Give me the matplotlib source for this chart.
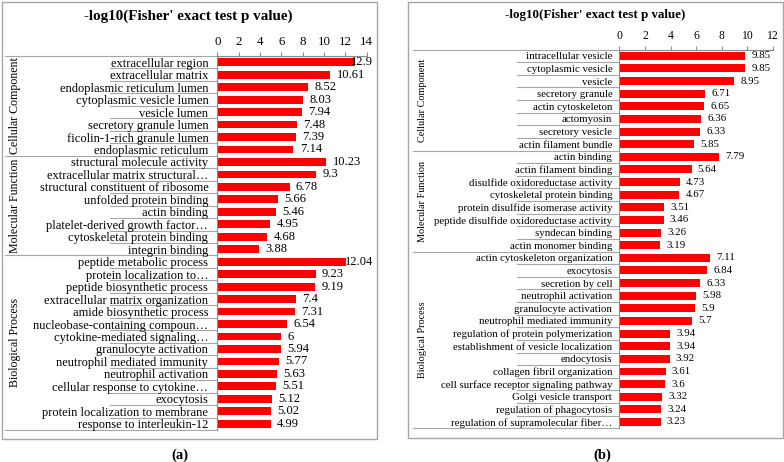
import matplotlib
matplotlib.use("Agg")
import matplotlib.pyplot as plt
from matplotlib.patches import Rectangle
from matplotlib.transforms import blended_transform_factory

plt.rcParams['font.family'] = ['Liberation Serif', 'DejaVu Serif']

# ---------------- data ----------------
groups = ["Cellular Component", "Molecular Function", "Biological Process"]

a_cc_labels = ["extracellular region", "extracellular matrix", "endoplasmic reticulum lumen",
               "cytoplasmic vesicle lumen", "vesicle lumen", "secretory granule lumen",
               "ficolin-1-rich granule lumen", "endoplasmic reticulum"]
a_cc_values = [12.9, 10.61, 8.52, 8.03, 7.94, 7.48, 7.39, 7.14]
a_mf_labels = ["structural molecule activity", "extracellular matrix structural\u2026",
               "structural constituent of ribosome", "unfolded protein binding", "actin binding",
               "platelet-derived growth factor\u2026", "cytoskeletal protein binding", "integrin binding"]
a_mf_values = [10.23, 9.3, 6.78, 5.66, 5.46, 4.95, 4.68, 3.88]
a_bp_labels = ["peptide metabolic process", "protein localization to\u2026", "peptide biosynthetic process",
               "extracellular matrix organization", "amide biosynthetic process",
               "nucleobase-containing compoun\u2026", "cytokine-mediated signaling\u2026",
               "granulocyte activation", "neutrophil mediated immunity", "neutrophil activation",
               "cellular response to cytokine\u2026", "exocytosis", "protein localization to membrane",
               "response to interleukin-12"]
a_bp_values = [12.04, 9.23, 9.19, 7.4, 7.31, 6.54, 6.0, 5.94, 5.77, 5.63, 5.51, 5.12, 5.02, 4.99]
a_ticks = [0, 2, 4, 6, 8, 10, 12, 14]

b_cc_labels = ["intracellular vesicle", "cytoplasmic vesicle", "vesicle", "secretory granule",
               "actin cytoskeleton", "actomyosin", "secretory vesicle", "actin filament bundle"]
b_cc_values = [9.85, 9.85, 8.95, 6.71, 6.65, 6.36, 6.33, 5.85]
b_mf_labels = ["actin binding", "actin filament binding", "disulfide oxidoreductase activity",
               "cytoskeletal protein binding", "protein disulfide isomerase activity",
               "peptide disulfide oxidoreductase activity", "syndecan binding", "actin monomer binding"]
b_mf_values = [7.79, 5.64, 4.73, 4.67, 3.51, 3.46, 3.26, 3.19]
b_bp_labels = ["actin cytoskeleton organization", "exocytosis", "secretion by cell",
               "neutrophil activation", "granulocyte activation", "neutrophil mediated immunity",
               "regulation of protein polymerization", "establishment of vesicle localization",
               "endocytosis", "collagen fibril organization", "cell surface receptor signaling pathway",
               "Golgi vesicle transport", "regulation of phagocytosis",
               "regulation of supramolecular fiber\u2026"]
b_bp_values = [7.11, 6.84, 6.33, 5.98, 5.9, 5.7, 3.94, 3.94, 3.92, 3.61, 3.6, 3.32, 3.24, 3.23]
b_ticks = [0, 2, 4, 6, 8, 10, 12]

title = "-log10(Fisher' exact test p value)"

W, H, DPI = 784, 462, 100
fig = plt.figure(figsize=(W / DPI, H / DPI), dpi=DPI)
fig.patch.set_facecolor("white")

GRAY = "#8c8c8c"
LGRAY = "#a6a6a6"


def px_rect(x0, y0, x1, y1):
    return [x0 / W, 1 - y1 / H, (x1 - x0) / W, (y1 - y0) / H]


def panel(box, ax_px, xmax, ticks, label_sets, value_sets, fs_lab, fs_val, fs_tick, fs_grp,
          lab_pad, lab_line_x, grp_line_x, grp_text_x, title_xy, fs_title, cap, cap_xy,
          clamp_px):
    # frame
    fig.patches.append(Rectangle((box[0] / W, 1 - box[3] / H), (box[2] - box[0]) / W,
                                 (box[3] - box[1]) / H, transform=fig.transFigure,
                                 fill=False, edgecolor=LGRAY, linewidth=1.0))
    ax = fig.add_axes(px_rect(*ax_px))
    labels = sum(label_sets, [])
    values = sum(value_sets, [])
    n = len(labels)
    y = list(range(n))
    ax.barh(y, values, height=0.63, color="#ff0000", zorder=2)
    ax.set_xlim(0, xmax)
    ax.set_ylim(n - 0.5, -0.5)
    ax.set_xticks(ticks)
    ax.xaxis.tick_top()
    ax.tick_params(axis="x", direction="out", length=3, width=0.8, color=GRAY,
                   labelsize=fs_tick, pad=2.5)
    ax.set_yticks(y)
    ax.set_yticklabels(labels, fontsize=fs_lab)
    ax.tick_params(axis="y", length=0, pad=lab_pad)
    for s in ["right", "bottom"]:
        ax.spines[s].set_visible(False)
    for s in ["top", "left"]:
        ax.spines[s].set_color(GRAY)
        ax.spines[s].set_linewidth(0.8)
    ax.set_facecolor("none")

    tr = blended_transform_factory(ax.transAxes, ax.transData)
    # group boundaries
    bounds = [0]
    for ls in label_sets:
        bounds.append(bounds[-1] + len(ls))
    for k in range(1, n):
        if k not in bounds:
            ax.plot([lab_line_x, 0], [k - 0.5, k - 0.5], transform=tr, color=LGRAY,
                    lw=0.8, clip_on=False, zorder=1)
    for b in bounds:
        ax.plot([grp_line_x, 0], [b - 0.5, b - 0.5], transform=tr, color=LGRAY,
                lw=0.8, clip_on=False, zorder=1)
    for gi, g in enumerate(groups):
        yc = (bounds[gi] + bounds[gi + 1] - 1) / 2
        ax.text(grp_text_x, yc, g, transform=tr, rotation=90, ha="center", va="center",
                fontsize=fs_grp)

    texts = []
    for yi, v in zip(y, values):
        t = ax.annotate(f"{v:g}", xy=(v, yi), xytext=(4.5, 0), textcoords="offset points",
                        ha="left", va="center", fontsize=fs_val, zorder=3, annotation_clip=False)
        texts.append(t)

    fig.text(title_xy[0] / W, 1 - title_xy[1] / H, title, ha="center", va="center",
             fontsize=fs_title, fontweight="bold")
    fig.text(cap_xy[0] / W, 1 - cap_xy[1] / H, cap, ha="center", va="center",
             fontsize=10.5, fontweight="bold")
    return texts, clamp_px


res_a = panel(box=(2, 2, 377, 439), ax_px=(217.3, 56, 366.6, 430), xmax=14, ticks=a_ticks,
              label_sets=[a_cc_labels, a_mf_labels, a_bp_labels],
              value_sets=[a_cc_values, a_mf_values, a_bp_values],
              fs_lab=9, fs_val=9, fs_tick=9.3, fs_grp=8.6, lab_pad=6.5,
              lab_line_x=(110 - 217.3) / 149.3, grp_line_x=(5 - 217.3) / 149.3,
              grp_text_x=(15 - 217.3) / 149.3, title_xy=(188, 16), fs_title=10.9,
              cap="(a)", cap_xy=(180, 455), clamp_px=373)
res_b = panel(box=(408, 2, 783, 438), ax_px=(619.3, 49.5, 773, 428.3), xmax=12, ticks=b_ticks,
              label_sets=[b_cc_labels, b_mf_labels, b_bp_labels],
              value_sets=[b_cc_values, b_mf_values, b_bp_values],
              fs_lab=7.8, fs_val=7.8, fs_tick=8.4, fs_grp=7.4, lab_pad=5,
              lab_line_x=(517 - 619.3) / 153.7, grp_line_x=(413 - 619.3) / 153.7,
              grp_text_x=(423 - 619.3) / 153.7, title_xy=(595, 15), fs_title=9.4,
              cap="(b)", cap_xy=(602, 455), clamp_px=781)

fig.canvas.draw()
renderer = fig.canvas.get_renderer()
for texts, clamp in (res_a, res_b):
    for t in texts:
        bb = t.get_window_extent(renderer)
        if bb.x1 > clamp:
            dx = (bb.x1 - clamp) * 72 / DPI
            t.xyann = (t.xyann[0] - dx, 0)

fig.savefig("out.png", dpi=DPI)
